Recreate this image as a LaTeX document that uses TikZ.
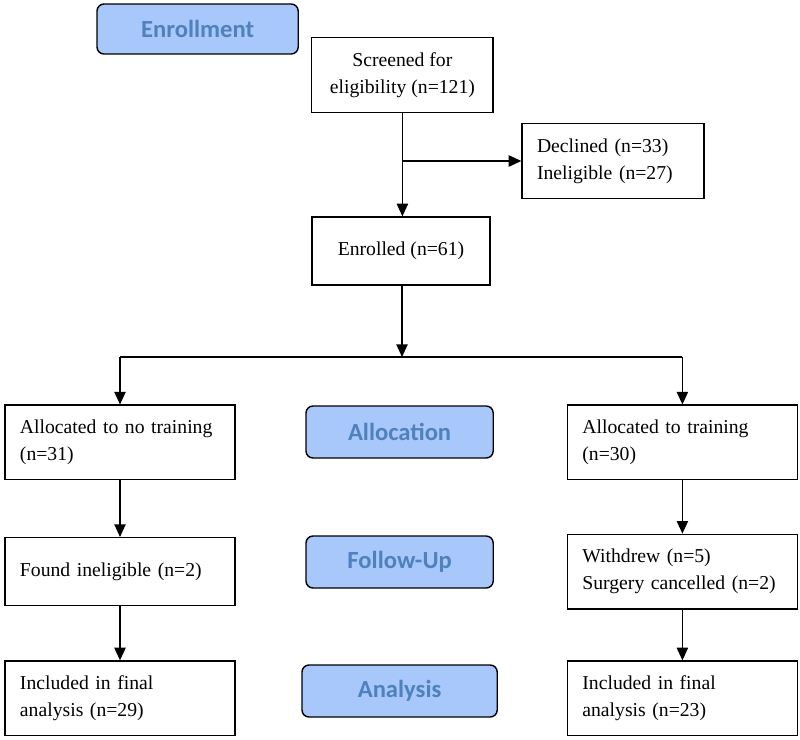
\documentclass[tikz,border=0pt]{standalone}
\usepackage{fontspec}
\setmainfont{Liberation Serif}
\newfontfamily\stagefont{Carlito}
\usetikzlibrary{arrows.meta}
\definecolor{stagefill}{RGB}{168,199,250}
\definecolor{stagetext}{RGB}{79,129,189}

\begin{document}
\begin{tikzpicture}[
    box/.style={draw, line width=0.9pt, minimum height=1.7cm, inner sep=0.375cm,
      font=\fontsize{14}{19}\selectfont},
    sidebox/.style={box, text width=5.0cm, align=left},
    stage/.style={draw, line width=1pt, rounded corners=5pt, fill=stagefill,
      text=stagetext, minimum height=1.3cm, font=\stagefont\bfseries\fontsize{17.5}{20}\selectfont},
    arr/.style={line width=1.1pt, -{Triangle[length=9pt,width=8pt]}},
    ln/.style={line width=1.1pt}
  ]
  % Widths of the boxes
  \pgfmathsetmacro{\sideW}{5.75}
  \pgfmathsetmacro{\stageW}{4.68}

  % Fix the page size
  \useasboundingbox (0,0) rectangle (20,-18.5);

  % Stage labels
  \node[stage, minimum width=5.03cm, minimum height=1.25cm] (enroll) at (4.94,-0.725) {Enrollment};
  \node[stage, minimum width=\stageW cm] (alloc) at (9.99,-10.8) {Allocation};
  \node[stage, minimum width=\stageW cm] (follow) at (9.99,-14.05) {Follow-Up};
  \node[stage, minimum width=4.88cm] (analysis) at (9.99,-17.275) {Analysis};

  % Enrollment boxes
  \node[box, minimum width=4.53cm, align=center] (screen) at (10.06,-1.875) {Screened for\\eligibility (n=121)};
  \node[box, minimum width=4.55cm, text width=3.8cm, align=left] (declined) at (15.325,-4.025) {Declined (n=33)\\Ineligible (n=27)};
  \node[box, minimum width=4.45cm] (enrolled) at (10.025,-6.275) {Enrolled (n=61)};

  % Left arm
  \node[sidebox, minimum width=\sideW cm] (noTrain) at (3.0,-11.06) {Allocated to no training\\(n=31)};
  \node[sidebox, minimum width=\sideW cm] (inelig) at (3.0,-14.29) {Found ineligible (n=2)};
  \node[sidebox, minimum width=\sideW cm] (finalL) at (3.0,-17.46) {Included in final\\analysis (n=29)};

  % Right arm
  \node[sidebox, minimum width=\sideW cm] (train) at (17.06,-11.06) {Allocated to training\\(n=30)};
  \node[sidebox, minimum width=\sideW cm] (withdrew) at (17.06,-14.29) {Withdrew (n=5)\\Surgery cancelled (n=2)};
  \node[sidebox, minimum width=\sideW cm] (finalR) at (17.06,-17.46) {Included in final\\analysis (n=23)};

  % Connectors
  \coordinate (branch) at (screen.south |- declined.west);
  \coordinate (split) at (10.05,-8.925);
  \draw[arr] (screen.south) -- (screen.south |- enrolled.north);
  \draw[arr] (branch) -- (declined.west);
  \draw[arr] (enrolled.south -| split) -- (split);
  \draw[ln] (noTrain.north |- split) -- (train.north |- split);
  \draw[arr] (noTrain.north |- split) -- (noTrain.north);
  \draw[arr] (train.north |- split) -- (train.north);
  \draw[arr] (noTrain) -- (inelig);
  \draw[arr] (inelig) -- (finalL);
  \draw[arr] (train) -- (withdrew);
  \draw[arr] (withdrew) -- (finalR);
\end{tikzpicture}
\end{document}
